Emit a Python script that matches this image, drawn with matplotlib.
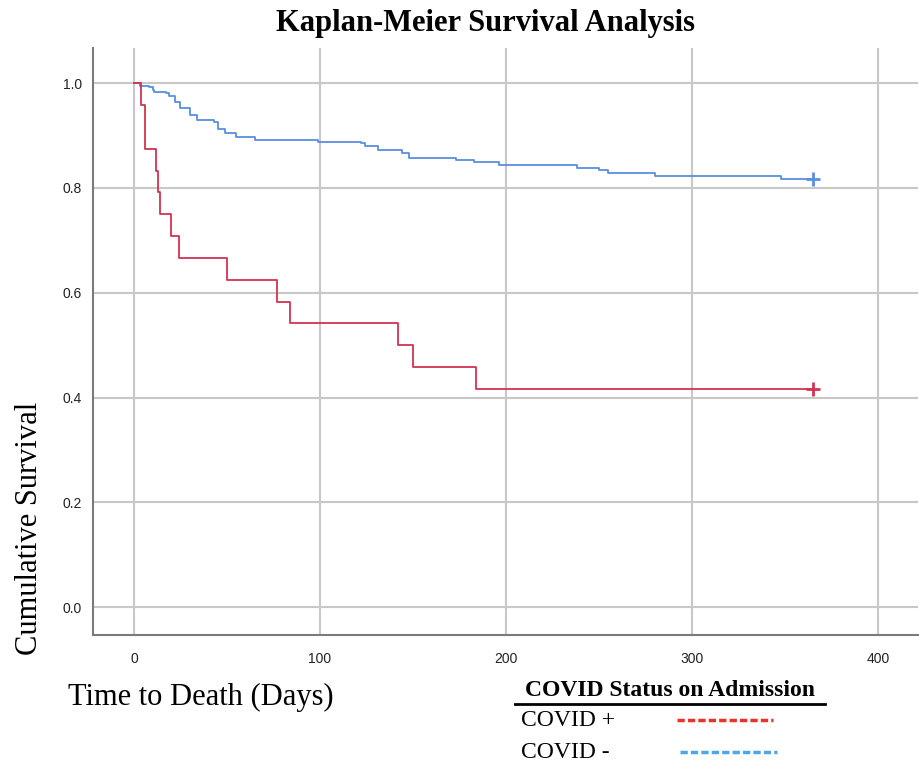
import matplotlib
matplotlib.use("Agg")
import matplotlib.pyplot as plt
from matplotlib.lines import Line2D

# ---- data ----
red_times = [0, 4, 6, 12, 13, 14, 20, 24, 50, 77, 84, 142, 150, 184, 365]
red_surv = [1.0, 0.958, 0.875, 0.833, 0.792, 0.750, 0.708, 0.667, 0.625,
            0.583, 0.542, 0.500, 0.458, 0.417, 0.417]

blue_times = [0, 3, 8, 10, 11, 17, 19, 22, 25, 30, 34, 43, 45, 49, 55, 65,
              99, 122, 124, 131, 144, 148, 173, 183, 196, 238, 250, 255,
              280, 348, 365]
blue_surv = [1.0, 0.995, 0.992, 0.987, 0.983, 0.981, 0.975, 0.964, 0.952,
             0.939, 0.929, 0.926, 0.913, 0.904, 0.897, 0.891, 0.888, 0.886,
             0.880, 0.873, 0.866, 0.858, 0.854, 0.850, 0.843, 0.838, 0.834,
             0.829, 0.822, 0.818, 0.818]

x_ticks = [0, 100, 200, 300, 400]
y_ticks = [0.0, 0.2, 0.4, 0.6, 0.8, 1.0]
y_tick_labels = ["0.0", "0.2", "0.4", "0.6", "0.8", "1.0"]
legend_labels = ["COVID +", "COVID -"]

title = "Kaplan-Meier Survival Analysis"
xlabel = "Time to Death (Days)"
ylabel = "Cumulative Survival"
legend_title = "COVID Status on Admission"

RED = "#d2334f"
BLUE = "#5b8fe0"
LEG_COLORS = ["#e8332a", "#4ea6ea"]
SERIF = ["Liberation Serif", "DejaVu Serif"]
SANS = ["Liberation Sans", "DejaVu Sans"]

W, H = 920, 767
fig = plt.figure(figsize=(W / 100, H / 100), dpi=100)
ax = fig.add_axes([93 / W, 1 - 635 / H, (918 - 93) / W, (635 - 48) / H])

ax.step(blue_times, blue_surv, where="post", color=BLUE, lw=1.3, zorder=3)
ax.step(red_times, red_surv, where="post", color=RED, lw=1.3, zorder=3)
ax.plot(blue_times[-1:], blue_surv[-1:], marker="+", ms=10, mew=2, color=BLUE, zorder=4)
ax.plot(red_times[-1:], red_surv[-1:], marker="+", ms=10, mew=2, color=RED, zorder=4)

ax.set_xlim(-22, 421.5)
ax.set_ylim(-0.053, 1.067)
ax.set_xticks(x_ticks)
ax.set_yticks(y_ticks)
ax.set_yticklabels(y_tick_labels)
ax.grid(True, color="#c8c8c8", lw=1.5, zorder=0)
ax.set_axisbelow(True)
for s in ["top", "right"]:
    ax.spines[s].set_visible(False)
for s in ["left", "bottom"]:
    ax.spines[s].set_color("#7a7a7a")
    ax.spines[s].set_linewidth(1.5)
ax.tick_params(axis="both", length=0, labelsize=10, labelcolor="#222222")
ax.tick_params(axis="x", pad=12)
ax.tick_params(axis="y", pad=8)
for lab in ax.get_xticklabels() + ax.get_yticklabels():
    lab.set_family(SANS)

fig.text(486 / W, 1 - 23 / H, title, ha="center", va="center",
         family=SERIF, fontweight="bold", fontsize=22)
fig.text(68 / W, 1 - 697 / H, xlabel, ha="left", va="center",
         family=SERIF, fontsize=22)
fig.text(30 / W, 1 - 528 / H, ylabel, ha="center", va="center",
         rotation=90, family=SERIF, fontsize=22)

# ---- legend (drawn by hand to match the left-aligned layout) ----
fig.text(525 / W, 1 - 690 / H, legend_title, ha="left", va="center",
         family=SERIF, fontweight="bold", fontsize=17)
fig.add_artist(Line2D([515 / W, 825 / W], [1 - 704 / H] * 2,
                      transform=fig.transFigure, color="black", lw=2))
row_y = [720, 752]
line_x = [(677, 773), (680, 777)]
for lab, col, yy, (x0, x1) in zip(legend_labels, LEG_COLORS, row_y, line_x):
    fig.text(521 / W, 1 - yy / H, lab, ha="left", va="center",
             family=SERIF, fontsize=17)
    fig.add_artist(Line2D([x0 / W, x1 / W], [1 - yy / H] * 2,
                          transform=fig.transFigure, color=col, lw=2.5,
                          ls=(0, (2.1, 0.9))))

fig.savefig("out.png", dpi=100)
